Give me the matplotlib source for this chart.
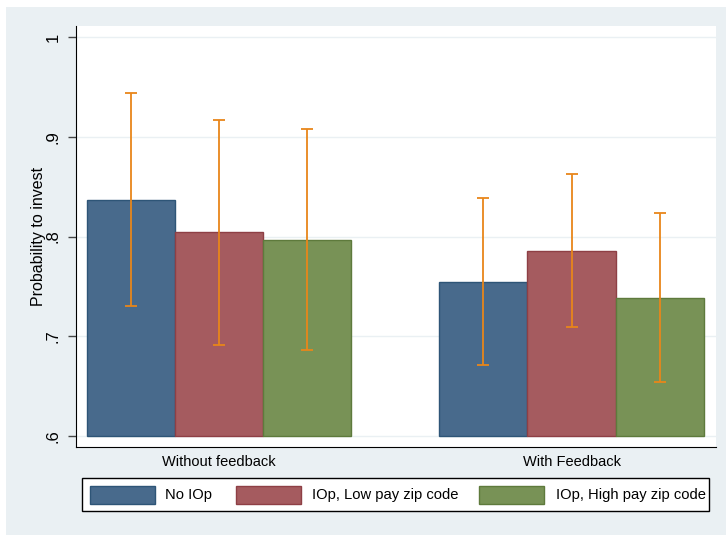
import matplotlib
matplotlib.use("Agg")
import matplotlib.pyplot as plt
from matplotlib.patches import Rectangle
import numpy as np

plt.rcParams['font.family'] = ['Liberation Sans', 'DejaVu Sans']

groups = ["Without feedback", "With Feedback"]
series = ["No IOp", "IOp, Low pay zip code", "IOp, High pay zip code"]
means = {
    "No IOp": [0.8365, 0.754],
    "IOp, Low pay zip code": [0.8045, 0.7855],
    "IOp, High pay zip code": [0.796, 0.738],
}
ci_low = {
    "No IOp": [0.730, 0.671],
    "IOp, Low pay zip code": [0.691, 0.709],
    "IOp, High pay zip code": [0.686, 0.654],
}
ci_high = {
    "No IOp": [0.944, 0.839],
    "IOp, Low pay zip code": [0.917, 0.863],
    "IOp, High pay zip code": [0.908, 0.824],
}
yticks = [0.6, 0.7, 0.8, 0.9, 1.0]
ytick_labels = [".6", ".7", ".8", ".9", "1"]

fills = ["#486A8C", "#A55B5F", "#789256"]
edges = ["#2E5577", "#8E3F45", "#5E7A3C"]
err_color = "#E8861A"
bg = "#EAF0F3"

W, H = 726, 535
fig = plt.figure(figsize=(W/100, H/100), dpi=100)
fig.patch.set_facecolor("white")
fig.patches.append(Rectangle((6/W, 0), 1, 1 - 7/H, transform=fig.transFigure,
                             facecolor=bg, edgecolor="none", zorder=-10))

ax = fig.add_axes([76/W, (H-447)/H, (716-76)/W, (447-26)/H])
ax.set_facecolor("white")

base = 0.6
for gi, g in enumerate(groups):
    for si, s in enumerate(series):
        x = gi * 4 + si
        ax.bar(x, means[s][gi] - base, bottom=base, width=1.0, color=fills[si],
               edgecolor=edges[si], linewidth=1.0, zorder=2)
        lo, hi = ci_low[s][gi], ci_high[s][gi]
        ax.errorbar(x, means[s][gi], yerr=[[means[s][gi] - lo], [hi - means[s][gi]]],
                    fmt="none", ecolor=err_color, elinewidth=1.3, capsize=4.5,
                    capthick=1.3, zorder=3)

ax.set_xlim(-0.625, 6.64)
ax.set_ylim(0.589, 1.011)
ax.set_yticks(yticks)
ax.set_yticklabels(ytick_labels, rotation=90, va="center", fontsize=12)
ax.tick_params(axis="y", direction="out", length=6, width=1, color="#444444", pad=5)
ax.set_xticks([1, 5])
ax.set_xticklabels(groups, fontsize=10.5)
ax.tick_params(axis="x", length=0, pad=6)
ax.grid(axis="y", color=bg, linewidth=1.0, zorder=0)
ax.set_axisbelow(True)
for sp in ["top", "right"]:
    ax.spines[sp].set_visible(False)
ax.spines["left"].set_color("black")
ax.spines["bottom"].set_color("black")
ax.set_ylabel("Probability to invest", fontsize=11.5, labelpad=0)

# manual legend (figure pixel coordinates)
def fx(px):
    return px / W

def fy(py):
    return 1 - py / H

fig.patches.append(Rectangle((fx(82), fy(511)), fx(709) - fx(82), fy(478) - fy(511),
                             transform=fig.transFigure, facecolor="white",
                             edgecolor="black", linewidth=1.0, zorder=5))
patch_x = [90, 236, 479]
text_x = [165, 312, 556]
for i, s in enumerate(series):
    fig.patches.append(Rectangle((fx(patch_x[i]), fy(504)), fx(65), fy(486) - fy(504),
                                 transform=fig.transFigure, facecolor=fills[i],
                                 edgecolor=edges[i], linewidth=1.0, zorder=6))
    fig.text(fx(text_x[i]), fy(495), s, fontsize=10.6, va="center", ha="left", zorder=7)

fig.savefig("out.png", dpi=100)
